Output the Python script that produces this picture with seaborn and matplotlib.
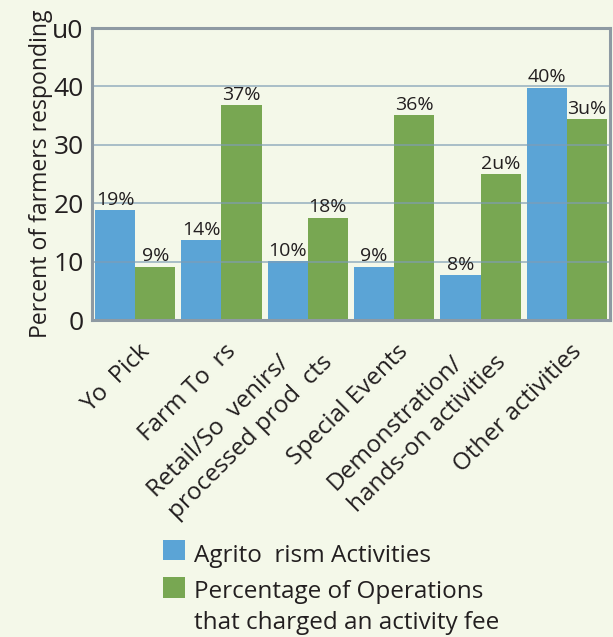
import numpy as np
import pandas as pd
import matplotlib.pyplot as plt
import matplotlib.transforms as mtransforms
from matplotlib.patches import Patch
import seaborn as sns

# data
categories = ["Yo  Pick", "Farm To  rs", "Retail/So  venirs/\nprocessed prod  cts",
              "Special Events", "Demonstration/\nhands-on activities", "Other activities"]
series = ["Agrito  rism Activities", "Percentage of Operations\nthat charged an activity fee"]
agritourism = [18.8, 13.7, 10.1, 9.1, 7.7, 39.8]
fee_charged = [9.1, 36.8, 17.5, 35.1, 25.0, 34.4]
agritourism_labels = ["19%", "14%", "10%", "9%", "8%", "40%"]
fee_labels = ["9%", "37%", "18%", "36%", "2u%", "3u%"]
yticks = [0, 10, 20, 30, 40, 50]
ytick_labels = ["0", "10", "20", "30", "40", "u0"]

bg = "#f4f8e9"
colors = ["#5ba4d6", "#78a752"]
txt = "#231f20"

sns.set_style("white")
plt.rcParams["font.family"] = ["Open Sans", "DejaVu Sans"]

df = pd.DataFrame({
    "activity": categories * 2,
    "series": [series[0]] * 6 + [series[1]] * 6,
    "value": agritourism + fee_charged,
})

fig = plt.figure(figsize=(6.13, 6.37), dpi=100, facecolor=bg)
ax = fig.add_axes([92 / 613, 1 - 320 / 637, 518 / 613, 292 / 637])
ax.set_facecolor(bg)

sns.barplot(data=df, x="activity", y="value", hue="series", order=categories,
            hue_order=series, palette=colors, width=0.93, gap=0, saturation=1,
            edgecolor="none", linewidth=0, legend=False, ax=ax, zorder=2)

# labels over bars
for container, labs in zip(ax.containers, [agritourism_labels, fee_labels]):
    ax.bar_label(container, labels=labs, padding=1, fontsize=14, color=txt)

ax.set_xlim(-0.5, 5.5)
ax.set_ylim(0, 50)
ax.set_yticks(yticks)
ax.set_yticklabels(ytick_labels, fontsize=19, color=txt)
ax.set_axisbelow(False)
ax.yaxis.grid(True, color="#7f9db5", linewidth=1.2, alpha=0.75)
ax.tick_params(axis="y", length=4, width=1.2, color="#8aa5b8", pad=2)

ax.set_ylabel("Percent of farmers responding", fontsize=16.6, color=txt, labelpad=-0.5)
ax.set_xlabel("")

# tick marks at group boundaries, labels at group centres
ax.set_xticks(np.arange(-0.5, 6, 1), minor=True)
ax.tick_params(axis="x", which="minor", length=13, width=1.5, color="#9fb3c1")
ax.tick_params(axis="x", which="major", length=0, pad=0)
ax.set_xticks(range(len(categories)))
ax.set_xticklabels(categories, fontsize=17.5, color=txt, rotation=45,
                   ha="right", va="center", rotation_mode="anchor", linespacing=1.35)
offset = mtransforms.ScaledTranslation(0.11, -0.28, fig.dpi_scale_trans)
for lab in ax.get_xticklabels():
    lab.set_multialignment("left")
    lab.set_transform(lab.get_transform() + offset)

for side in ["left", "right", "top", "bottom"]:
    ax.spines[side].set_visible(True)
    ax.spines[side].set_color("#8e9aa3")
    ax.spines[side].set_linewidth(2.2)
    ax.spines[side].set_zorder(4)

handles = [Patch(facecolor=c, edgecolor="none") for c in colors]
leg = fig.legend(handles, series, loc="upper left", bbox_to_anchor=(141 / 613, 1 - 522 / 637),
                 frameon=False, fontsize=17.5, handlelength=0.9, handleheight=0.9,
                 handletextpad=0.36, labelspacing=0.5, labelcolor=txt)
for t in leg.get_texts():
    t.set_linespacing(1.36)
# squares sit next to the first line of their entry
p1, p2 = leg.get_patches()
p1.set_y(p1.get_y() + 2.9)
p2.set_y(p2.get_y() + 15.0)

fig.savefig("out.png", dpi=100, facecolor=bg)
